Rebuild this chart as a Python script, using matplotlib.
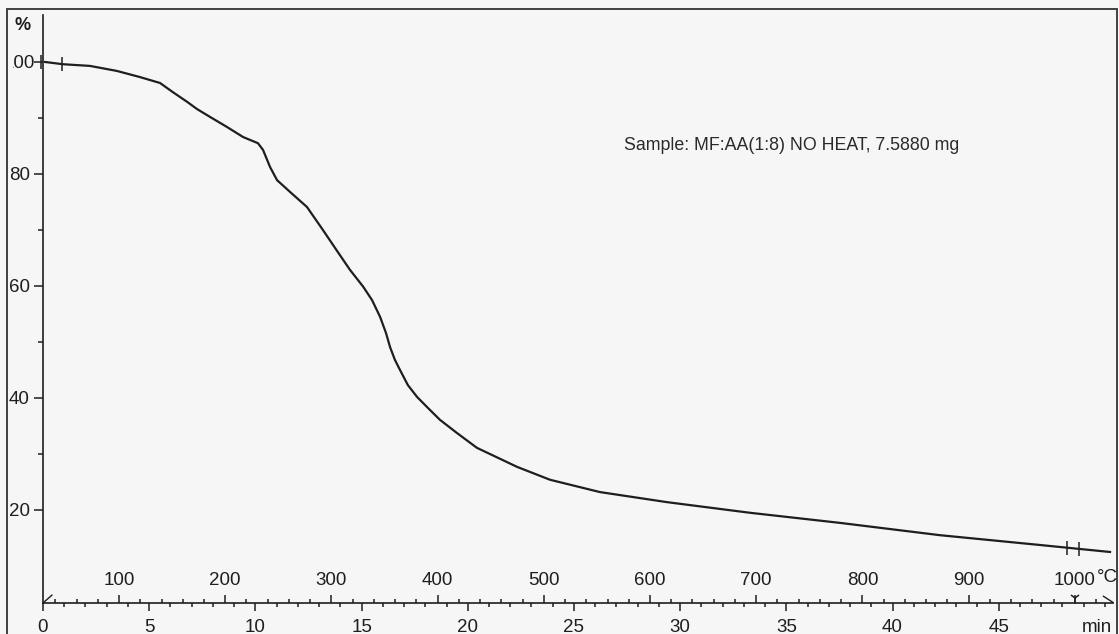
import matplotlib.pyplot as plt
import matplotlib.ticker as mticker
from matplotlib.patches import Rectangle
from matplotlib.transforms import Bbox

plt.rcParams["font.family"] = ["Liberation Sans", "DejaVu Sans"]

# --- data: time (min) vs remaining mass (%) ---
time_min = [0.1, 0.94, 2.21, 3.48, 4.57, 5.51, 6.12, 6.78, 7.25, 7.86, 8.66, 9.42,
            10.12, 10.36, 10.69, 11.02, 11.63, 12.43, 13.18, 13.75, 14.45, 15.07,
            15.49, 15.87, 16.15, 16.34, 16.57, 16.81, 17.18, 17.61, 18.13, 18.69,
            19.49, 20.43, 22.32, 23.87, 26.22, 29.38, 33.29, 37.52, 42.23, 46.94,
            50.24]
mass_pct = [100.0, 99.6, 99.3, 98.4, 97.3, 96.25, 94.6, 92.9, 91.6, 90.2, 88.4, 86.6,
            85.5, 84.3, 81.25, 78.9, 76.8, 74.1, 70.0, 66.8, 62.9, 59.9,
            57.5, 54.5, 51.6, 49.1, 46.8, 45.0, 42.3, 40.2, 38.2, 36.1,
            33.75, 31.1, 27.7, 25.4, 23.2, 21.4, 19.5, 17.7, 15.5, 13.75,
            12.5]

# evaluation limit brackets on the curve
limit_time = [-0.1, 0.9, 48.2, 48.8]
limit_mass = [100.0, 99.6, 13.3, 13.1]

# axes ticks
mass_ticks = [20, 40, 60, 80, 100]
mass_minor = [30, 50, 70, 90]
time_ticks = [0, 5, 10, 15, 20, 25, 30, 35, 40, 45]
temp_ticks = [100, 200, 300, 400, 500, 600, 700, 800, 900, 1000]
temp_minor = list(range(40, 1021, 20))

T_START = 28.4   # °C at t = 0
RATE = 20.0      # °C / min
sample_label = "Sample: MF:AA(1:8) NO HEAT, 7.5880 mg"

BG = "#f6f6f6"
INK = "#1e1e1e"
W, H = 1119, 634
FS = 13.5


def to_temp(t):
    return T_START + RATE * t


def to_time(T):
    return (T - T_START) / RATE


fig = plt.figure(figsize=(W / 100, H / 100), dpi=100, facecolor=BG)
ax = fig.add_axes([43 / W, 31 / H, 1070 / W, 588 / H])
ax.set_facecolor(BG)

ax.plot(time_min, mass_pct, color=INK, lw=1.6, solid_joinstyle="round")
ax.plot(limit_time, limit_mass, ls="none", marker="|", ms=10, mew=1.1,
        color=INK, clip_on=False)

ax.set_xlim(0, 50.38)
ax.set_ylim(3.39, 108.39)

for s in ["top", "right"]:
    ax.spines[s].set_visible(False)
for s in ["left", "bottom"]:
    ax.spines[s].set_linewidth(1.2)
    ax.spines[s].set_color(INK)

# y axis; the top label sits partly outside the scanned frame
ylabels = [str(v) for v in mass_ticks]
ylabels[-1] = ""
ax.set_yticks(mass_ticks, ylabels)
ax.yaxis.set_minor_locator(mticker.FixedLocator(mass_minor))
ax.tick_params(axis="y", which="major", length=6.5, width=1.1, pad=3.0,
               labelsize=FS, colors=INK)
ax.tick_params(axis="y", which="minor", length=3.6, width=1.1, colors=INK)
top_lab = ax.annotate(str(mass_ticks[-1]), xy=(0, mass_ticks[-1]),
                      xycoords=("axes fraction", "data"), xytext=(-8, -2),
                      textcoords="offset pixels", ha="right", va="center",
                      fontsize=FS, color=INK, annotation_clip=False)
top_lab.set_clip_on(True)
top_lab.set_clip_path(None)
top_lab.set_clip_box(Bbox.from_extents(12.5, 0, W, H))

# time axis (ticks downwards)
ax.set_xticks(time_ticks, [str(v) for v in time_ticks])
ax.xaxis.set_minor_locator(mticker.MultipleLocator(1))
ax.tick_params(axis="x", which="major", length=5.8, width=1.1, pad=5.5,
               labelsize=FS, colors=INK)
ax.tick_params(axis="x", which="minor", length=2.9, width=1.1, colors=INK)

# temperature axis on the same line (ticks upwards)
sec = ax.secondary_xaxis(0.0, functions=(to_temp, to_time))
sec.set_alignment("top")
sec.spines["top"].set_visible(False)
sec.set_xticks(temp_ticks, [str(v) for v in temp_ticks])
sec.xaxis.set_minor_locator(mticker.FixedLocator(temp_minor))
sec.tick_params(which="major", direction="out", length=5.8, width=1.1, pad=4.5,
                labelsize=FS, colors=INK)
sec.tick_params(which="minor", direction="out", length=2.9, width=1.1, colors=INK)

ax.annotate("°C", xy=(to_time(1000), 0), xycoords=("data", "axes fraction"),
            xytext=(22, 26), textcoords="offset pixels", ha="left", va="center",
            fontsize=FS, color=INK, annotation_clip=False)
ax.annotate("min", xy=(1, 0), xycoords="axes fraction", xytext=(-16, -24),
            textcoords="offset pixels", ha="center", va="center",
            fontsize=FS, color=INK, annotation_clip=False)

# end-of-heating mark and axis arrows
ax.plot([to_time(1000)], [4.3], marker="1", ms=8, mew=1.1, color=INK, clip_on=False)
x0, x1 = ax.get_xlim()
y0 = ax.get_ylim()[0]
ax.plot([x0, x0 + 0.42], [y0, y0 + 1.4], color=INK, lw=1.0, clip_on=False)
ax.plot([x1 - 0.45, x1], [y0 + 1.2, y0 + 0.1], color=INK, lw=1.0, clip_on=False)

fig.text(23 / W, 1 - 25 / H, "%", ha="center", va="center", fontsize=13,
         fontweight="bold", color=INK)
fig.text(624 / W, 1 - 145 / H, sample_label, ha="left", va="center",
         fontsize=12.8, color="#2a2a2a")

# scan border
fig.add_artist(Rectangle((7 / W, -0.05), 1110 / W, (H - 9) / H + 0.05,
                         transform=fig.transFigure, fill=False, lw=1.3,
                         edgecolor="#333333", zorder=6, clip_on=False))

fig.savefig("out.png", dpi=100, facecolor=BG)
